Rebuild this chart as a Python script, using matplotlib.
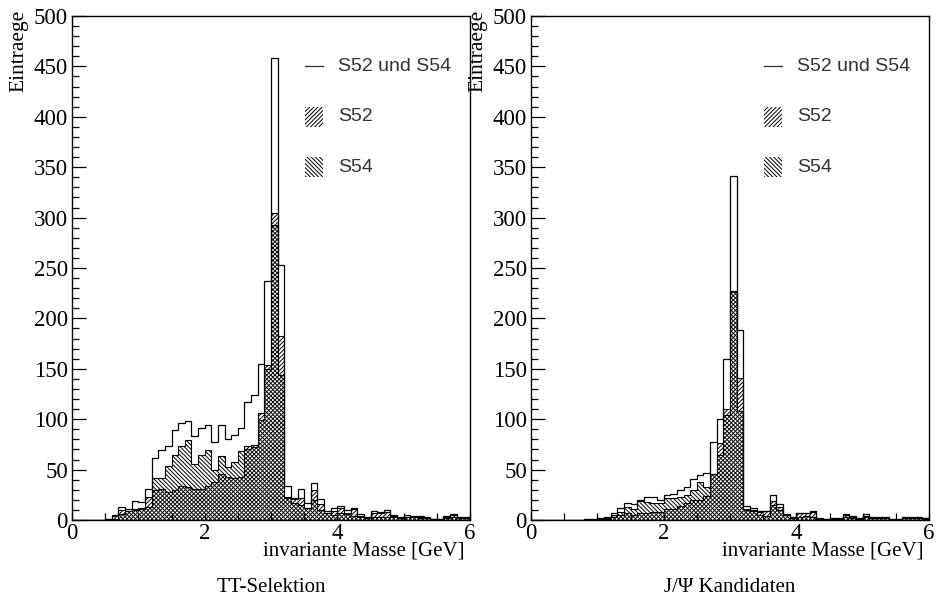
import matplotlib
matplotlib.use('Agg')
import matplotlib.pyplot as plt
from matplotlib.patches import Rectangle
from matplotlib.ticker import MultipleLocator
import numpy as np

# bins 0.1 GeV von 0 bis 6
edges = np.round(np.arange(0, 6.01, 0.1), 1)

# TT-Selektion
tt_alle = [0, 0, 0, 0, 0, 1, 5, 13, 11, 19,
           18, 31, 62, 69, 73, 89, 96, 98, 83, 91,
           94, 77, 94, 80, 84, 91, 117, 124, 155, 237,
           458, 253, 34, 22, 31, 17, 37, 21, 9, 12,
           14, 10, 12, 6, 3, 9, 8, 10, 5, 3,
           5, 4, 4, 3, 1, 1, 4, 6, 3, 3]
tt_s52 = [0, 0, 0, 0, 0, 1, 4, 10, 9, 11,
          12, 23, 30, 31, 28, 30, 34, 33, 31, 31,
          34, 38, 46, 43, 42, 43, 73, 74, 106, 154,
          305, 183, 23, 21, 22, 12, 30, 16, 7, 9,
          12, 7, 11, 4, 2, 7, 7, 8, 4, 2,
          3, 3, 3, 2, 1, 1, 3, 5, 2, 2]
tt_s54 = [0, 0, 0, 0, 0, 0, 1, 6, 9, 10,
          11, 13, 42, 42, 54, 64, 73, 79, 56, 64,
          69, 50, 63, 53, 58, 68, 70, 72, 99, 150,
          293, 144, 22, 17, 15, 12, 20, 10, 7, 5,
          7, 6, 4, 3, 2, 3, 3, 3, 3, 2,
          3, 3, 2, 2, 1, 1, 2, 3, 2, 2]

# J/Psi Kandidaten
jp_alle = [0, 0, 0, 0, 0, 0, 0, 0, 1, 1,
           1.5, 2.5, 6.6, 11.6, 17, 16, 20, 23, 23, 20,
           25, 26, 30, 33, 41, 45, 47, 77, 100, 160,
           341, 188, 14, 12, 9, 9, 25, 16, 6, 3,
           7, 7, 9, 2, 1, 2, 2, 6, 4, 2,
           6, 3, 3, 3, 1, 1, 3, 3, 3, 2]
jp_s52 = [0, 0, 0, 0, 0, 0, 0, 0, 0, 0,
          1, 1, 3, 5, 7, 5, 7, 7, 8, 8,
          11, 11, 14, 17, 20, 20, 24, 46, 76, 110,
          227, 141, 11, 10, 8, 9, 19, 13, 5, 2,
          7, 7, 8, 1, 1, 1, 2, 5, 3, 2,
          4, 2, 2, 2, 1, 0, 2, 2, 2, 2]
jp_s54 = [0, 0, 0, 0, 0, 0, 0, 0, 1, 1,
          1, 2, 5, 8, 13, 11, 19, 18, 17, 17,
          22, 22, 23, 25, 30, 38, 33, 46, 64, 104,
          226, 108, 10, 9, 5, 4, 15, 10, 5, 2,
          3, 4, 3, 1, 1, 1, 1, 3, 2, 1,
          3, 2, 2, 2, 0, 0, 2, 2, 2, 1]

labels = ['S52 und S54', 'S52', 'S54']
titles = ['TT-Selektion', 'J/\u03a8 Kandidaten']

serif = 'Liberation Serif'
sans = 'Liberation Sans'
h52 = '/' * 8
h54 = '\\' * 8
plt.rcParams['hatch.linewidth'] = 0.7


def histo(ax, alle, s52, s54, title):
    ax.stairs(s52, edges, fill=True, facecolor='none', edgecolor='black',
              hatch=h52, linewidth=0.8)
    ax.stairs(s54, edges, fill=True, facecolor='none', edgecolor='black',
              hatch=h54, linewidth=0.8)
    ax.stairs(alle, edges, color='black', linewidth=0.9)

    ax.set_xlim(0, 6)
    ax.set_ylim(0, 500)
    ax.set_xticks([0, 2, 4, 6])
    ax.xaxis.set_minor_locator(MultipleLocator(0.5))
    ax.set_yticks(range(0, 501, 50))
    ax.yaxis.set_minor_locator(MultipleLocator(10))
    ax.tick_params(which='both', direction='in', top=False, right=False, width=0.9)
    ax.tick_params(axis='y', which='major', length=10, pad=3)
    ax.tick_params(axis='y', which='minor', length=5)
    ax.tick_params(axis='x', which='both', length=5, pad=2)
    for t in ax.get_xticklabels() + ax.get_yticklabels():
        t.set_family(serif)
        t.set_fontsize(16.5)
    for s in ax.spines.values():
        s.set_linewidth(1.0)

    ax.set_ylabel('Eintraege', family=serif, fontsize=15.5)
    ax.yaxis.set_label_coords(-0.133, 1.012)
    ax.yaxis.label.set_horizontalalignment('right')
    ax.yaxis.label.set_verticalalignment('center')
    ax.set_xlabel('invariante Masse [GeV]', family=serif, fontsize=15,
                  loc='right')
    ax.xaxis.set_label_coords(0.985, -0.062)
    ax.xaxis.label.set_verticalalignment('center')
    ax.text(0.5, -0.133, title, transform=ax.transAxes, ha='center',
            va='center', family=serif, fontsize=15)

    # Legende
    ax.plot([3.51, 3.79], [450, 450], color='#333333', linewidth=0.9)
    ax.add_patch(Rectangle((3.51, 390), 0.28, 20, fill=False, hatch=h52,
                           edgecolor='black', linewidth=0))
    ax.add_patch(Rectangle((3.51, 340), 0.28, 20, fill=False, hatch=h54,
                           edgecolor='black', linewidth=0))
    for lab, yy in zip(labels, [450, 400, 350]):
        ax.text(4.01, yy, lab, va='center', family=sans, fontsize=14,
                color='#333333')


fig = plt.figure(figsize=(9.37, 6.0), dpi=100)
ax1 = fig.add_axes([72 / 937, 80 / 600, 398 / 937, 504 / 600])
ax2 = fig.add_axes([531 / 937, 80 / 600, 398 / 937, 504 / 600])
histo(ax1, tt_alle, tt_s52, tt_s54, titles[0])
histo(ax2, jp_alle, jp_s52, jp_s54, titles[1])

plt.savefig('out.png', dpi=100)
plt.close()
